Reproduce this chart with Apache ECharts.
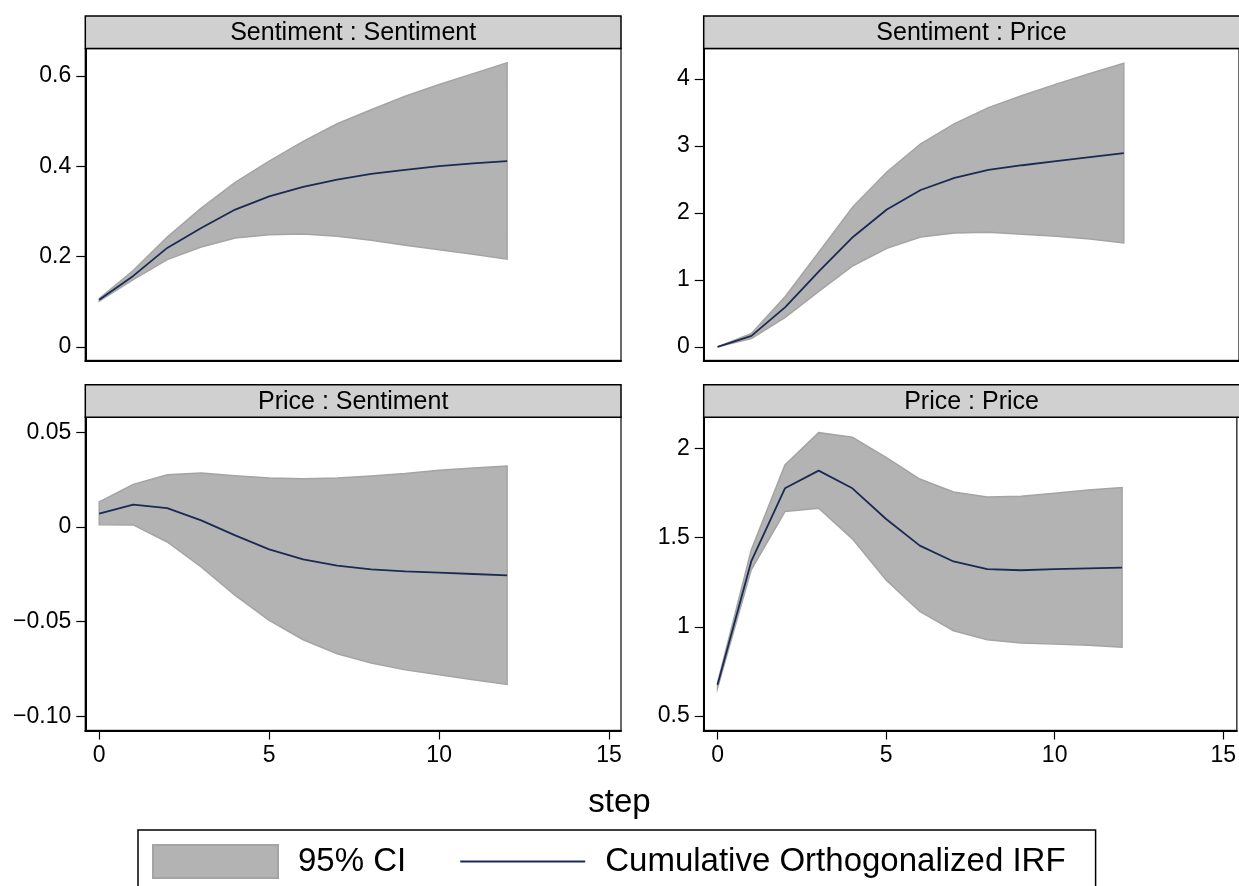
<!DOCTYPE html>
<html><head><meta charset="utf-8">
<script src="https://cdn.jsdelivr.net/npm/echarts@6/dist/echarts.min.js"></script>
<style>html,body{margin:0;padding:0;background:#fff}#c{width:1239px;height:886px}</style>
</head><body><div id="c"></div><script>
// ---- data ----
const steps = [0,1,2,3,4,5,6,7,8,9,10,11,12];
const panelTitles = ['Sentiment : Sentiment','Sentiment : Price','Price : Sentiment','Price : Price'];

const ssIrf = [0.104,0.157,0.219,0.263,0.304,0.333,0.354,0.370,0.383,0.392,0.400,0.406,0.411];
const ssHi  = [0.107,0.169,0.243,0.307,0.364,0.411,0.455,0.494,0.525,0.555,0.581,0.605,0.629];
const ssLo  = [0.101,0.149,0.193,0.221,0.241,0.248,0.250,0.245,0.236,0.225,0.215,0.205,0.194];

const spIrf = [0,0.164,0.593,1.13,1.64,2.05,2.34,2.52,2.64,2.71,2.77,2.83,2.89];
const spHi  = [0,0.20,0.75,1.42,2.09,2.61,3.03,3.33,3.57,3.75,3.92,4.08,4.23];
const spLo  = [0,0.125,0.44,0.83,1.21,1.47,1.64,1.70,1.71,1.68,1.65,1.61,1.55];

const psIrf = [0.0070,0.0118,0.0100,0.0035,-0.0044,-0.0118,-0.0171,-0.0204,-0.0224,-0.0234,-0.0241,-0.0248,-0.0255];
const psHi  = [0.0132,0.0225,0.0276,0.0285,0.0271,0.0259,0.0255,0.0259,0.0269,0.0282,0.0299,0.0312,0.0322];
const psLo  = [0.0012,0.0011,-0.0079,-0.0211,-0.0361,-0.0493,-0.0595,-0.0669,-0.0718,-0.0754,-0.0780,-0.0806,-0.0831];

const ppIrf = [0.675,1.366,1.776,1.875,1.776,1.604,1.455,1.366,1.323,1.317,1.323,1.328,1.332];
const ppHi  = [0.685,1.431,1.907,2.088,2.062,1.950,1.828,1.756,1.728,1.731,1.748,1.767,1.780];
const ppLo  = [0.657,1.319,1.646,1.664,1.493,1.263,1.086,0.978,0.927,0.909,0.903,0.897,0.886];

const xTicks = [0,5,10,15];
const xTickLabels = ['0','5','10','15'];
const ssTicks = [0,0.2,0.4,0.6];
const ssTickLabels = ['0','0.2','0.4','0.6'];
const spTicks = [0,1,2,3,4];
const spTickLabels = ['0','1','2','3','4'];
const psTicks = [-0.10,-0.05,0,0.05];
const psTickLabels = ['\u22120.10','\u22120.05','0','0.05'];
const ppTicks = [0.5,1,1.5,2];
const ppTickLabels = ['0.5','1','1.5','2'];

const ciName = '95% CI';
const irfName = 'Cumulative Orthogonalized IRF';

// ---- layout / style ----
const FONT = '"Liberation Sans", Arial, Helvetica, sans-serif';
const BAND_FILL = '#b3b3b3', BAND_EDGE = '#a4a4a4', LINE_COL = '#1b2a52';
const colL = 85.3, colR = 703.7;
const PX_PER_STEP = 33.99, XMIN = -0.41;
const WL = 535.7, WR = 537.5;
const rowT = 48.5, rowB = 417.3, H = [312, 313.2];
const stripH = 32.5;

const panels = [
  {irf: ssIrf, hi: ssHi, lo: ssLo, ticks: ssTicks, labels: ssTickLabels, min: -0.0303, max: 0.6606, left: colL, w: WL, top: rowT, h: H[0], bottom: false},
  {irf: spIrf, hi: spHi, lo: spLo, ticks: spTicks, labels: spTickLabels, min: -0.204, max: 4.452, left: colR, w: WR, top: rowT, h: H[0], bottom: false},
  {irf: psIrf, hi: psHi, lo: psLo, ticks: psTicks, labels: psTickLabels, min: -0.1074, max: 0.0579, left: colL, w: WL, top: rowB, h: H[1], bottom: true},
  {irf: ppIrf, hi: ppHi, lo: ppLo, ticks: ppTicks, labels: ppTickLabels, min: 0.419, max: 2.174, left: colR, w: WR, top: rowB, h: H[1], bottom: true}
];

function labelFor(ticks, labels) {
  return function (v) {
    for (let i = 0; i < ticks.length; i++) if (Math.abs(ticks[i] - v) < 1e-9) return labels[i];
    return '';
  };
}

function bandRender(lo, hi) {
  return function (params, api) {
    if (params.dataIndex !== 0) return null;
    const pts = [];
    for (let j = 0; j < steps.length; j++) pts.push(api.coord([steps[j], hi[j]]));
    for (let j = steps.length - 1; j >= 0; j--) pts.push(api.coord([steps[j], lo[j]]));
    return {type: 'polygon', shape: {points: pts}, style: {fill: BAND_FILL, stroke: BAND_EDGE, lineWidth: 1.5}};
  };
}

const grid = [], xAxis = [], yAxis = [], series = [], graphic = [];
panels.forEach((p, i) => {
  grid.push({left: p.left, top: p.top, width: p.w, height: p.h, show: true, borderColor: '#3a3a3a', borderWidth: 1.5, containLabel: false});
  xAxis.push({
    type: 'value', gridIndex: i, min: XMIN, max: XMIN + p.w / PX_PER_STEP,
    axisLine: {show: true, onZero: false, lineStyle: {color: '#000', width: 2}},
    axisTick: {show: p.bottom, length: 9, lineStyle: {color: '#000', width: 1.2}, customValues: xTicks},
    axisLabel: {show: p.bottom, customValues: xTicks, formatter: labelFor(xTicks, xTickLabels), margin: 14, color: '#000', fontSize: 23, fontFamily: FONT},
    splitLine: {show: false}
  });
  yAxis.push({
    type: 'value', gridIndex: i, min: p.min, max: p.max,
    axisLine: {show: true, onZero: false, lineStyle: {color: '#000', width: 2}},
    axisTick: {show: true, length: 9, lineStyle: {color: '#000', width: 1.2}, customValues: p.ticks},
    axisLabel: {show: true, customValues: p.ticks, formatter: labelFor(p.ticks, p.labels), margin: 14, color: '#000', fontSize: 23, fontFamily: FONT},
    splitLine: {show: false}
  });
  series.push({
    type: 'custom', name: ciName, xAxisIndex: i, yAxisIndex: i,
    data: steps.map((s, j) => [s, p.lo[j], p.hi[j]]),
    encode: {x: 0, y: [1, 2]},
    itemStyle: {color: BAND_FILL},
    renderItem: bandRender(p.lo, p.hi), z: 2, silent: true
  });
  series.push({
    type: 'line', name: irfName, xAxisIndex: i, yAxisIndex: i,
    data: steps.map((s, j) => [s, p.irf[j]]),
    symbol: 'none', lineStyle: {color: LINE_COL, width: 1.8}, itemStyle: {color: LINE_COL}, z: 3, silent: true
  });
  graphic.push({
    type: 'rect', shape: {x: p.left, y: p.top - stripH, width: p.w, height: stripH},
    style: {fill: '#d0d0d0', stroke: '#000', lineWidth: 1.5}, z: 10
  });
  graphic.push({
    type: 'text', x: p.left + WL / 2, y: p.top - stripH / 2 + 1,
    style: {text: panelTitles[i], fill: '#000', fontSize: 25, fontFamily: FONT, align: 'center', verticalAlign: 'middle'}, z: 11
  });
});

const chart = echarts.init(document.getElementById('c'), null, {renderer: 'canvas'});
chart.setOption({
  animation: false,
  backgroundColor: '#fff',
  title: {text: 'step', left: 'center', top: 781, textStyle: {fontSize: 33, fontWeight: 'normal', color: '#000', fontFamily: FONT}},
  legend: {
    left: 138, top: 830, orient: 'horizontal', selectedMode: false,
    borderColor: '#000', borderWidth: 1.5, padding: [14, 30, 40, 14],
    itemWidth: 125, itemHeight: 33, itemGap: 53,
    textStyle: {fontSize: 33, color: '#000', fontFamily: FONT, padding: [0, 0, 0, 15]},
    data: [
      {name: ciName, icon: 'rect', itemStyle: {color: BAND_FILL, borderColor: BAND_EDGE, borderWidth: 2}},
      {name: irfName, itemStyle: {opacity: 0}, lineStyle: {color: LINE_COL, width: 2}}
    ]
  },
  grid, xAxis, yAxis, series, graphic
});
</script></body></html>
